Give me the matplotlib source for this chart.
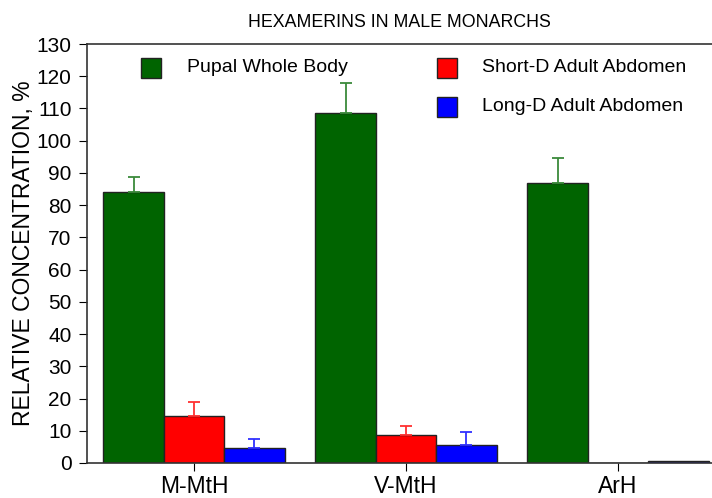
import matplotlib.pyplot as plt
import numpy as np

plt.rcParams['font.family'] = ['Liberation Sans', 'DejaVu Sans']

groups = ["M-MtH", "V-MtH", "ArH"]
series = ["Pupal Whole Body", "Short-D Adult Abdomen", "Long-D Adult Abdomen"]
pupal = [84.1, 108.6, 86.9]
pupal_err = [4.7, 9.3, 7.7]
short_d = [14.6, 8.7, 0.0]
short_err = [4.3, 2.8, 0.0]
long_d = [4.7, 5.6, 0.6]
long_err = [2.7, 4.0, 0.0]

colors = ["#006400", "#ff0000", "#0000ff"]
err_colors = ["#3a8a3a", "#ff3030", "#3030ff"]

fig = plt.figure(figsize=(7.12, 4.98), dpi=100)
ax = fig.add_axes([0.1222, 0.0703, 0.8778, 0.8413])

x = np.arange(len(groups))
w = 0.285
vals = [pupal, short_d, long_d]
errs = [pupal_err, short_err, long_err]
for i in range(3):
    pos = x + (i - 1) * w
    ax.bar(pos, vals[i], w, color=colors[i], edgecolor="#222222", linewidth=1.0)
    e = np.array(errs[i])
    m = e > 0
    ax.errorbar(pos[m], np.array(vals[i])[m], yerr=[np.zeros(m.sum()), e[m]],
                fmt="none", ecolor=err_colors[i], elinewidth=1.3, capsize=4.5, capthick=1.3)

ax.set_xlim(-0.505, 2.443)
ax.set_ylim(0, 130)
ax.set_yticks(np.arange(0, 131, 10))
ax.set_xticks(x)
ax.set_xticklabels(groups, fontsize=16.5)
ax.tick_params(axis="y", labelsize=15, direction="out", length=6, pad=5)
ax.tick_params(axis="x", direction="out", length=6, pad=3)
ax.spines["right"].set_visible(False)
for s in ["left", "bottom", "top"]:
    ax.spines[s].set_linewidth(1.2)
    ax.spines[s].set_color("#333333")

ax.set_ylabel("RELATIVE CONCENTRATION, %", fontsize=16.5, labelpad=1)
ax.set_title("HEXAMERINS IN MALE MONARCHS", fontsize=12.8, pad=12)

# legend drawn as squares + text
leg = [(0.102, 0.943, 0.16, 0), (0.576, 0.943, 0.632, 1), (0.576, 0.85, 0.632, 2)]
for lx, ly, tx, i in leg:
    ax.plot([lx], [ly], marker="s", markersize=14, color=colors[i],
            markeredgecolor="#222222", transform=ax.transAxes, clip_on=False)
    ax.text(tx, ly, series[i], fontsize=14, va="center", transform=ax.transAxes)

fig.savefig("out.png", dpi=100)
